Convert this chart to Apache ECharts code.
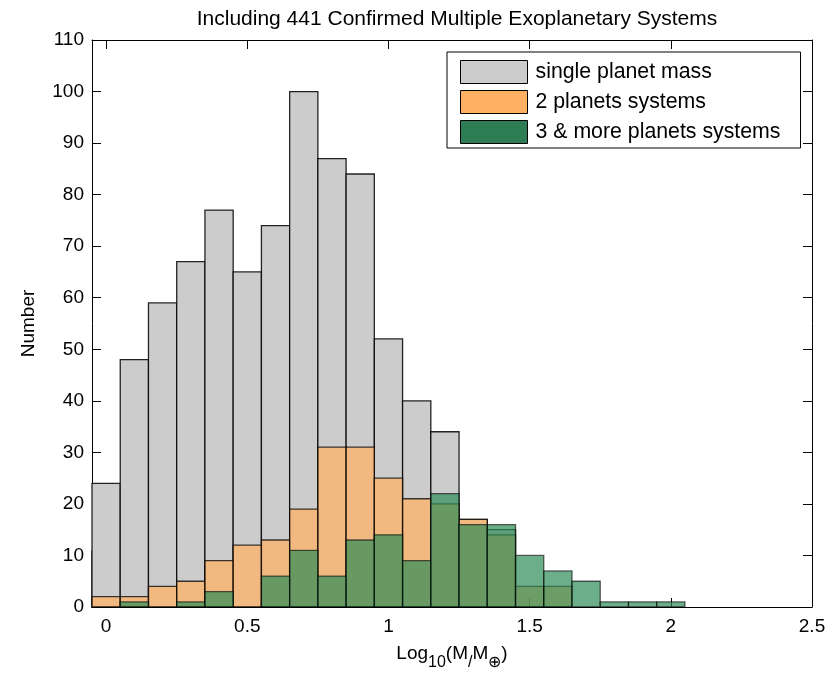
<!DOCTYPE html>
<html>
<head>
<meta charset="utf-8">
<script src="https://cdn.jsdelivr.net/npm/echarts@6/dist/echarts.min.js"></script>
<style>
html,body{margin:0;padding:0;background:#fff;}
#chart{width:836px;height:676px;}
</style>
</head>
<body>
<div id="chart"></div>
<script>
// Bin centres of the histogram (log10 of mass in Earth masses), bin width 0.1
const binCenters = [-0.1, 0.0, 0.1, 0.2, 0.3, 0.4, 0.5, 0.6, 0.7, 0.8, 0.9, 1.0, 1.1, 1.2, 1.3, 1.4, 1.5, 1.6, 1.7, 1.8, 1.9, 2.0];
const binWidth = 0.1;
// Counts per bin
const singlePlanet = [11, 24, 48, 59, 67, 77, 65, 74, 100, 87, 84, 52, 40, 34, 17, 15, 0, 0, 0, 0, 0, 0];
const twoPlanets   = [0, 2, 2, 4, 5, 9, 12, 13, 19, 31, 31, 25, 21, 20, 17, 14, 4, 4, 0, 0, 0, 0];
const threePlus    = [0, 0, 1, 0, 1, 3, 0, 6, 11, 6, 13, 14, 9, 22, 16, 16, 10, 7, 5, 1, 1, 1];
const seriesNames = ['single planet mass', '2 planets systems', '3 & more planets systems'];
const xTicks = [0, 0.5, 1, 1.5, 2, 2.5];
const titleText = 'Including 441 Confirmed Multiple Exoplanetary Systems';

const FONT = '"Liberation Sans", Arial, Helvetica, sans-serif';

function toData(counts) {
  const out = [];
  for (let i = 0; i < binCenters.length; i++) {
    if (counts[i] > 0) out.push([binCenters[i], counts[i]]);
  }
  return out;
}

function makeRender(fill, stroke) {
  return function (params, api) {
    const x = api.value(0), y = api.value(1);
    const p0 = api.coord([x - binWidth / 2, y]);
    const p1 = api.coord([x + binWidth / 2, 0]);
    const cs = params.coordSys;
    // clip the bar horizontally to the plotting area (an edge on the axis stays visible)
    let left = Math.max(p0[0], cs.x);
    let right = Math.min(p1[0], cs.x + cs.width);
    if (right < left) return null;
    return {
      type: 'rect',
      shape: { x: left, y: p0[1], width: right - left, height: p1[1] - p0[1] },
      style: { fill: fill, stroke: stroke, lineWidth: 1.3 }
    };
  };
}

const chart = echarts.init(document.getElementById('chart'), null, { renderer: 'canvas' });

const axisCommon = {
  axisLine: { show: true, onZero: false, lineStyle: { color: '#000', width: 1 } },
  splitLine: { show: false },
  axisTick: { show: true, inside: true, length: 9, lineStyle: { color: '#000', width: 1 } }
};

chart.setOption({
  animation: false,
  backgroundColor: '#fff',
  textStyle: { fontFamily: FONT },
  title: {
    text: titleText,
    left: 452,
    top: 4,
    textAlign: 'center',
    textStyle: { fontFamily: FONT, fontWeight: 'normal', fontSize: 21, color: '#000' }
  },
  grid: { left: 92, right: 24, top: 40, bottom: 69, containLabel: false },
  legend: {
    orient: 'vertical',
    left: 447,
    top: 52,
    padding: [8, 20, 4, 13],
    itemWidth: 67,
    itemHeight: 23,
    itemGap: 6,
    icon: 'rect',
    selectedMode: false,
    backgroundColor: '#fff',
    borderColor: '#000',
    borderWidth: 1,
    borderRadius: 0,
    textStyle: { fontFamily: FONT, fontSize: 21.3, color: '#000', padding: [0, 0, 0, 3] },
    data: [
      { name: seriesNames[0], itemStyle: { color: '#cccccc', borderColor: '#000', borderWidth: 1 } },
      { name: seriesNames[1], itemStyle: { color: '#ffb062', borderColor: '#000', borderWidth: 1 } },
      { name: seriesNames[2], itemStyle: { color: '#2e7d55', borderColor: '#000', borderWidth: 1 } }
    ]
  },
  xAxis: [
    Object.assign({}, axisCommon, {
      type: 'value', min: -0.05, max: 2.5, position: 'bottom',
      name: '{a|Log}{s|10}{a|(M}{s|/}{a|M}{s|⊕}{a|)}',
      nameLocation: 'middle', nameGap: 37,
      nameTextStyle: {
        rich: {
          a: { fontFamily: FONT, fontSize: 19, color: '#000', lineHeight: 20, verticalAlign: 'top' },
          s: { fontFamily: FONT, fontSize: 16, color: '#000', lineHeight: 16, padding: [11, 0, 0, 0], verticalAlign: 'top' }
        }
      },
      axisTick: { show: true, inside: true, length: 9, customValues: xTicks, lineStyle: { color: '#000', width: 1 } },
      axisLabel: {
        show: true, customValues: xTicks, margin: 10, color: '#000', fontFamily: FONT, fontSize: 19,
        formatter: function (v) { return String(v); }
      }
    }),
    Object.assign({}, axisCommon, {
      type: 'value', min: -0.05, max: 2.5, position: 'top',
      axisTick: { show: true, inside: true, length: 9, customValues: xTicks, lineStyle: { color: '#000', width: 1 } },
      axisLabel: { show: false }
    })
  ],
  yAxis: [
    Object.assign({}, axisCommon, {
      type: 'value', min: 0, max: 110, interval: 10, position: 'left',
      name: 'Number', nameLocation: 'middle', nameGap: 54, nameRotate: 90,
      nameTextStyle: { fontFamily: FONT, fontSize: 19, color: '#000' },
      axisLabel: { show: true, margin: 8, color: '#000', fontFamily: FONT, fontSize: 19 }
    }),
    Object.assign({}, axisCommon, {
      type: 'value', min: 0, max: 110, interval: 10, position: 'right',
      axisLabel: { show: false }
    })
  ],
  series: [
    {
      name: seriesNames[0], type: 'custom', xAxisIndex: 0, yAxisIndex: 0,
      itemStyle: { color: '#cccccc' },
      renderItem: makeRender('#cccccc', 'rgba(0,0,0,0.85)'),
      data: toData(singlePlanet), z: 1
    },
    {
      name: seriesNames[1], type: 'custom', xAxisIndex: 0, yAxisIndex: 0,
      itemStyle: { color: '#ffb062' },
      renderItem: makeRender('rgba(255,176,98,0.72)', 'rgba(0,0,0,0.75)'),
      data: toData(twoPlanets), z: 2
    },
    {
      name: seriesNames[2], type: 'custom', xAxisIndex: 0, yAxisIndex: 0,
      itemStyle: { color: '#2e7d55' },
      renderItem: makeRender('rgba(46,139,87,0.7)', 'rgba(0,0,0,0.6)'),
      data: toData(threePlus), z: 3
    }
  ]
});
</script>
</body>
</html>
